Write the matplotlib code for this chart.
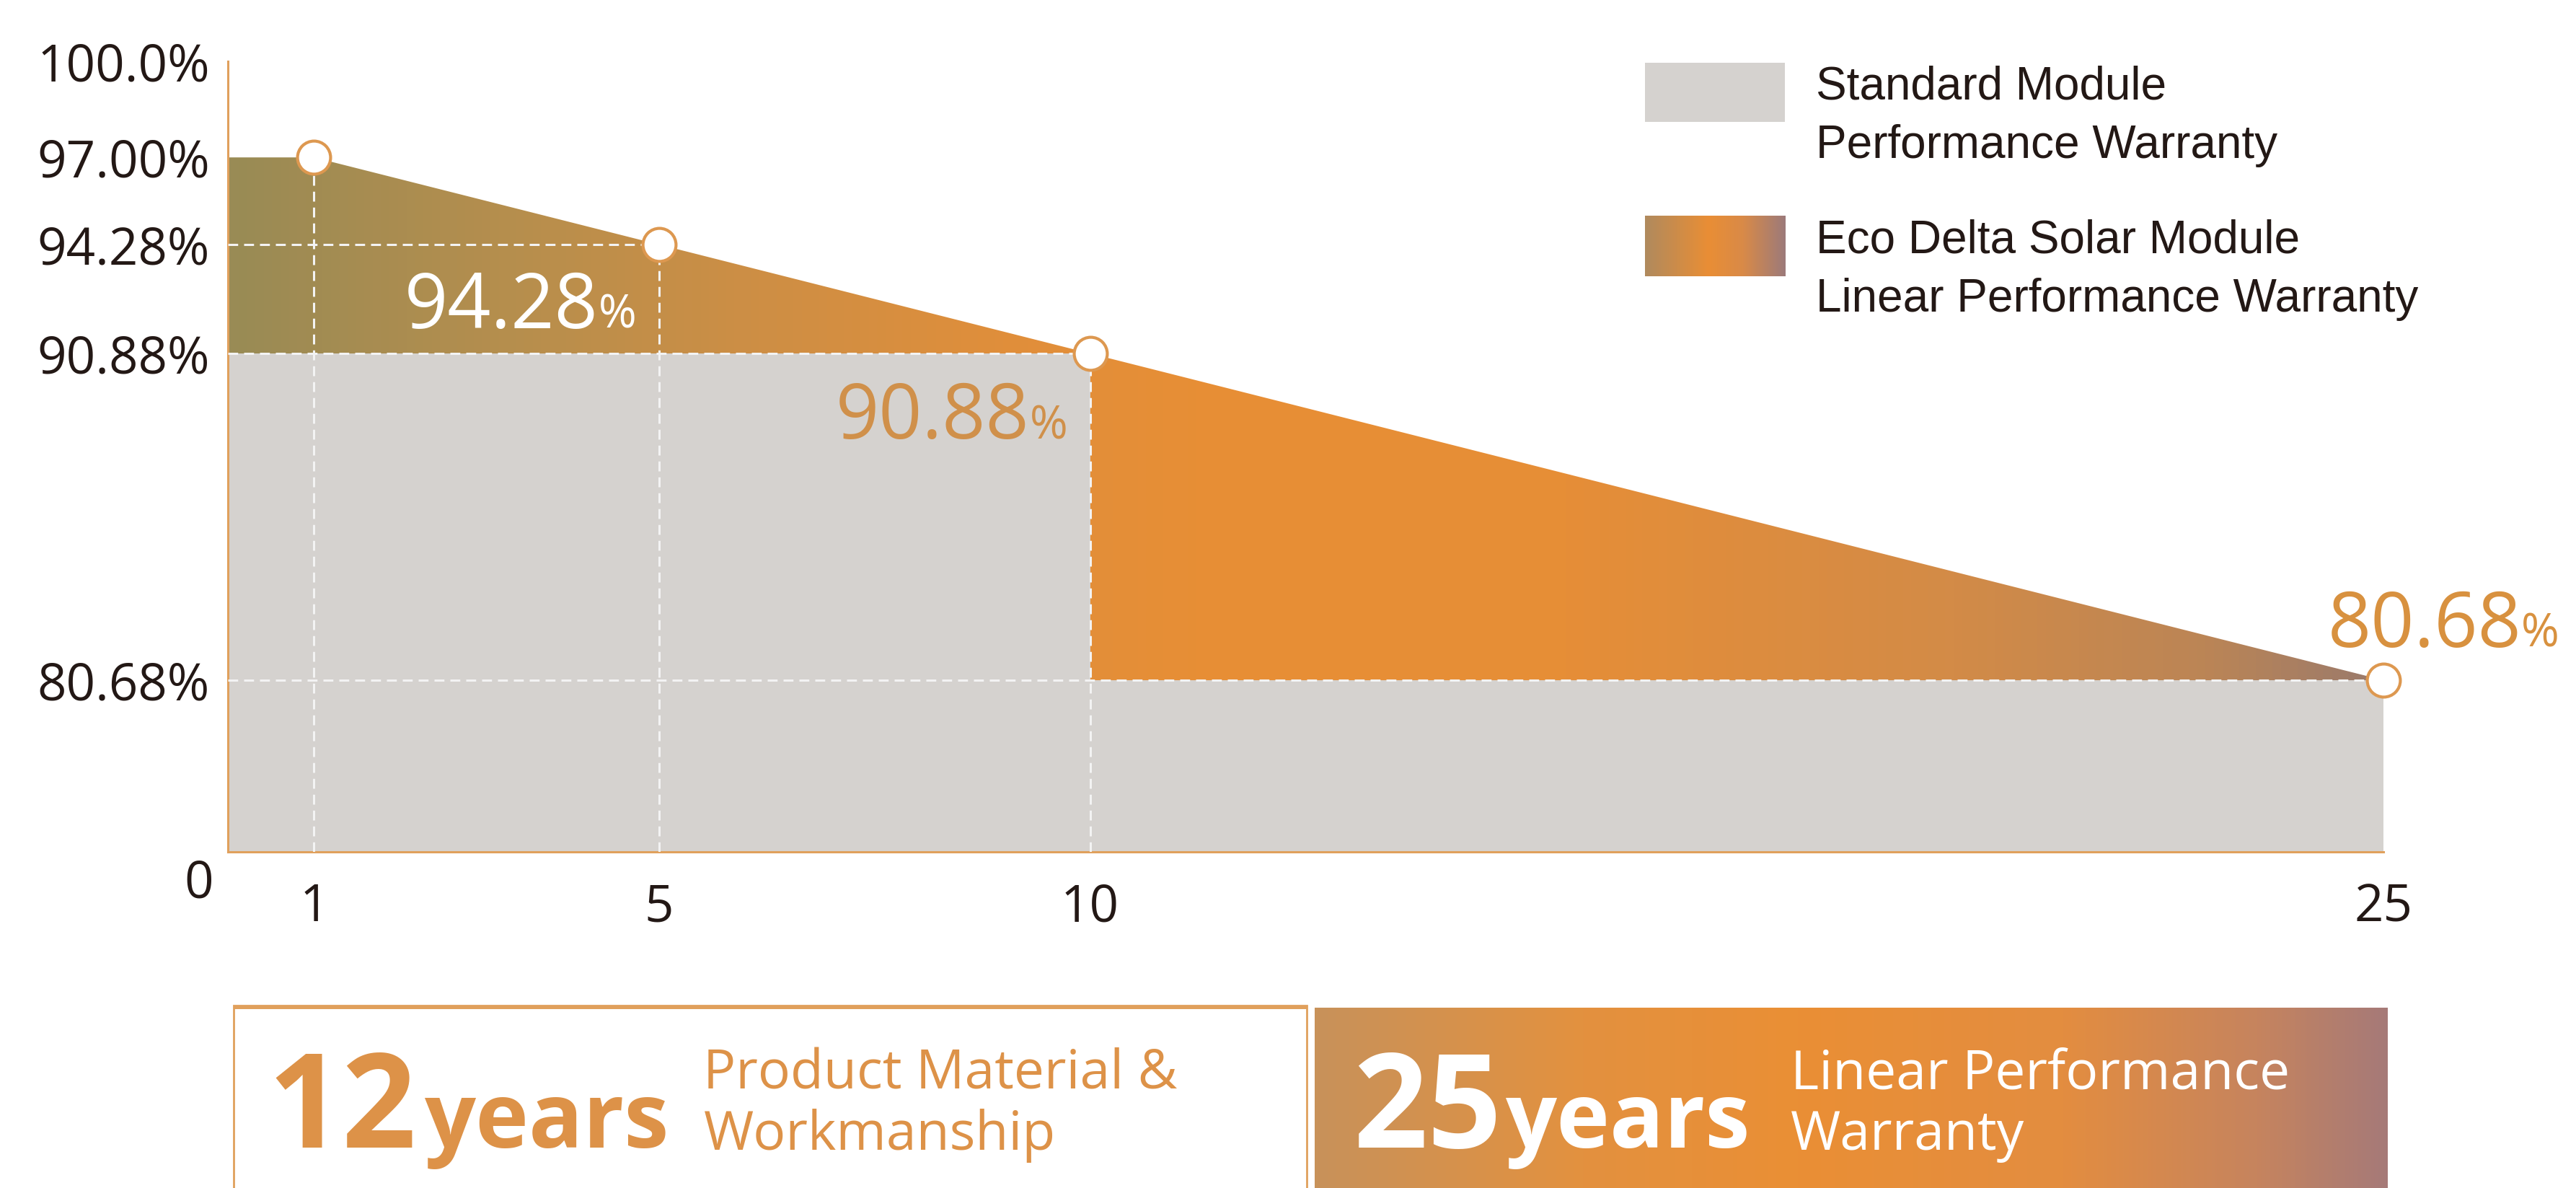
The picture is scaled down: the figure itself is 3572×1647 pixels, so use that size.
import numpy as np
import matplotlib.pyplot as plt
from matplotlib.colors import LinearSegmentedColormap
from matplotlib.patches import Polygon, Rectangle

# data
years = [1, 5, 10, 25]
eco_values = [97.00, 94.28, 90.88, 80.68]
std_x = [0, 10, 10, 25]
std_values = [90.88, 90.88, 80.68, 80.68]
ytick_vals = [80.68, 90.88, 94.28, 97.00, 100.0]
ytick_labels = ['80.68%', '90.88%', '94.28%', '97.00%', '100.0%']
legend_labels = ['Standard Module\nPerformance Warranty',
                 'Eco Delta Solar Module\nLinear Performance Warranty']
callouts = ['94.28', '90.88', '80.68']

DARK = '#231815'
ORANGE = '#dd9248'
GRAY = '#d5d2cf'
NUMFONT = 'Open Sans'

chart_cmap = LinearSegmentedColormap.from_list('eco', [
    (0.00, '#998b55'), (0.12, '#b48e4e'), (0.24, '#cd8f45'), (0.36, '#e08e3b'),
    (0.46, '#e88e35'), (0.62, '#e68e37'), (0.80, '#d38b47'), (0.92, '#bb8556'),
    (1.00, '#9a7a6c')])
band_cmap = LinearSegmentedColormap.from_list('band', [
    (0.0, '#c8925a'), (0.25, '#e3913f'), (0.45, '#ea8f35'), (0.70, '#e38d40'),
    (0.88, '#c6845e'), (1.0, '#a67a78')])
leg_cmap = LinearSegmentedColormap.from_list('leg', [
    (0.0, '#b08a5e'), (0.45, '#e98e35'), (0.7, '#d98a48'), (1.0, '#9c7a7a')])

fig = plt.figure(figsize=(35.73, 16.47), dpi=100)
ax = fig.add_axes([0.0884, 0.2829, 0.8366, 0.6655])
ymin = 75.32

# gradient orange area under the linear warranty line
eco_x = [0] + years
eco_y = [eco_values[0]] + eco_values
verts = [(0, ymin)] + list(zip(eco_x, eco_y)) + [(25, ymin)]
poly = Polygon(verts, closed=True, facecolor='none', edgecolor='none')
ax.add_patch(poly)
grad = np.linspace(0, 1, 500).reshape(1, -1)
im = ax.imshow(grad, extent=[0, 25, ymin, 97], aspect='auto', cmap=chart_cmap,
               zorder=1, interpolation='bilinear')
im.set_clip_path(poly)

# standard warranty step area
ax.fill_between(std_x, ymin, std_values, color=GRAY, lw=0, zorder=2)

# dashed guides
dash = (0, (4.5, 2.7))
for yr, val in zip(years[1:], eco_values[1:]):
    ax.hlines(val, 0, yr, colors='#f3f3f3', lw=2.2, linestyles=dash, zorder=3)
for yr, val in zip(years[:3], eco_values[:3]):
    ax.vlines(yr, ymin, val, colors='#f3f3f3', lw=2.2, linestyles=dash, zorder=3)

ax.plot(years, eco_values, ls='none', marker='o', ms=33, mfc='white',
        mec='#dd9850', mew=3, zorder=5, clip_on=False)

# callout values
callout_pos = [(4.3, 91.67, 'white'), (9.3, 88.22, '#d0904a'), (26.6, 81.72, '#d8913f')]
for lab, (cx, cy, col) in zip(callouts, callout_pos):
    ax.text(cx, cy, lab, ha='right', va='baseline', fontsize=76, color=col,
            family=NUMFONT, zorder=6, clip_on=False)
    ax.text(cx, cy, '%', ha='left', va='baseline', fontsize=46, color=col,
            family=NUMFONT, zorder=6, clip_on=False)

ax.set_xlim(0, 25)
ax.set_ylim(ymin, 100)
ax.set_xticks(years)
ax.set_xticklabels([str(y) for y in years])
ax.set_yticks(ytick_vals)
ax.set_yticklabels(ytick_labels)
ax.tick_params(length=0, labelsize=51, labelcolor=DARK)
ax.tick_params(axis='x', pad=30)
ax.tick_params(axis='y', pad=18)
for t in ax.get_xticklabels() + ax.get_yticklabels():
    t.set_family(NUMFONT)
ax.text(-0.34, 73.9, '0', ha='center', va='baseline', fontsize=51, color=DARK,
        family=NUMFONT, clip_on=False)
for s in ['top', 'right']:
    ax.spines[s].set_visible(False)
for s in ['left', 'bottom']:
    ax.spines[s].set_color('#e0a05c')
    ax.spines[s].set_linewidth(2.2)
ax.set_facecolor('none')

# legend
lg1 = fig.add_axes([0.6384, 0.8974, 0.0543, 0.0498])
lg1.set_facecolor(GRAY)
lg2 = fig.add_axes([0.6384, 0.7675, 0.0543, 0.0510])
lg2.imshow(grad, aspect='auto', cmap=leg_cmap, extent=[0, 1, 0, 1])
for a in (lg1, lg2):
    a.set_xticks([])
    a.set_yticks([])
    for s in a.spines.values():
        s.set_visible(False)
fig.text(0.7047, 0.902, legend_labels[0], ha='left', va='center', fontsize=46,
         color=DARK, family='Liberation Sans', linespacing=1.45)
fig.text(0.7047, 0.7726, legend_labels[1], ha='left', va='center', fontsize=46,
         color=DARK, family='Liberation Sans', linespacing=1.45)

# bottom banners
fig.patches.append(Rectangle((0.0906, -0.01), 0.4165, 0.1636, transform=fig.transFigure,
                             facecolor='white', edgecolor='#e0a05c', lw=2))
fig.patches.append(Rectangle((0.0906, 0.1505), 0.4165, 0.0031, transform=fig.transFigure,
                             facecolor='#e0a05c', edgecolor='none'))
bx = fig.add_axes([0.5103, 0.0, 0.4164, 0.152])
bx.imshow(grad, aspect='auto', cmap=band_cmap, extent=[0, 1, 0, 1])
bx.set_xticks([])
bx.set_yticks([])
for s in bx.spines.values():
    s.set_visible(False)

base = 0.034
fig.text(0.104, base, '12', ha='left', va='baseline', fontsize=130, weight='bold',
         color=ORANGE, family=NUMFONT)
fig.text(0.1646, base, 'years', ha='left', va='baseline', fontsize=90, weight='bold',
         color=ORANGE, family=NUMFONT)
fig.text(0.273, 0.0834, 'Product Material &', ha='left', va='baseline', fontsize=54,
         color=ORANGE, family=NUMFONT)
fig.text(0.273, 0.032, 'Workmanship', ha='left', va='baseline', fontsize=54,
         color=ORANGE, family=NUMFONT)
fig.text(0.525, base, '25', ha='left', va='baseline', fontsize=130, weight='bold',
         color='white', family=NUMFONT)
fig.text(0.584, base, 'years', ha='left', va='baseline', fontsize=90, weight='bold',
         color='white', family=NUMFONT)
fig.text(0.695, 0.0834, 'Linear Performance', ha='left', va='baseline', fontsize=54,
         color='white', family=NUMFONT)
fig.text(0.695, 0.032, 'Warranty', ha='left', va='baseline', fontsize=54,
         color='white', family=NUMFONT)

fig.savefig('out.png', dpi=100)
